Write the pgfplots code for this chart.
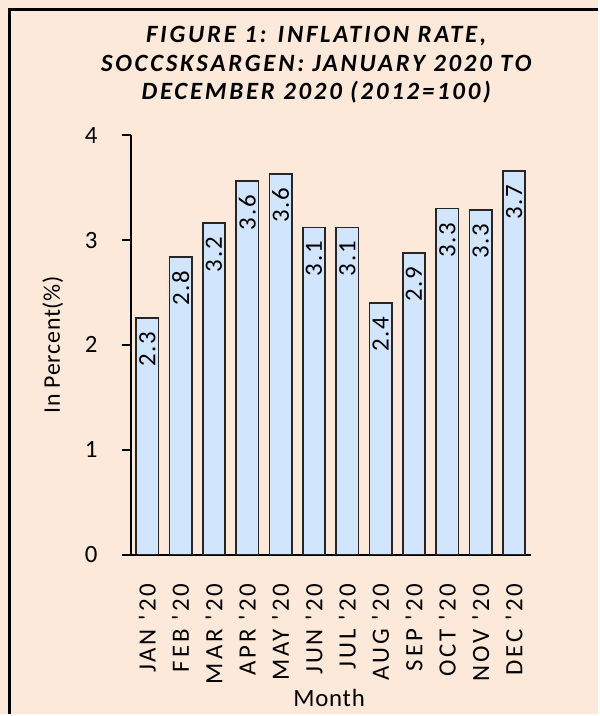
\documentclass[border=0pt]{standalone}
\usepackage{pgfplots}
\pgfplotsset{compat=1.18}
\usepackage{fontspec}
\setmainfont{Carlito}
\newfontfamily\tickfont[LetterSpace=12]{Carlito}
\newfontfamily\labelfont[LetterSpace=3]{Carlito}
\newfontfamily\valuefont[LetterSpace=7]{Carlito}
\newfontfamily\titlefont[LetterSpace=11]{Carlito}
\definecolor{bgpeach}{HTML}{FDE9D9}
\definecolor{barblue}{HTML}{D1E5FD}

\begin{document}
\begin{tikzpicture}
\fill[bgpeach] (0bp,0bp) rectangle (599bp,716bp);
\draw[line width=3.5bp] (9.5bp,0bp) -- (9.5bp,706.5bp) -- (599bp,706.5bp);
\node[align=center, font=\titlefont\bfseries\itshape\fontsize{25}{28.5}\selectfont]
  at (317bp,651bp) {FIGURE 1: INFLATION RATE,\\SOCCSKSARGEN: JANUARY 2020 TO\\DECEMBER 2020 (2012=100)};
\begin{axis}[
  at={(131bp,160bp)}, anchor=south west,
  scale only axis, width=401bp, height=420.5bp,
  xmin=-0.5, xmax=11.5, ymin=0, ymax=4,
  axis x line*=bottom, axis y line*=left,
  axis line style={black, line width=1.8bp, -},
  ytick={0,1,2,3,4},
  tick align=outside, major tick length=9bp,
  ytick style={black, line width=1.8bp},
  xtick={0,...,11},
  xtick style={draw=none},
  xticklabels={JAN '20,FEB '20,MAR '20,APR '20,MAY '20,JUN '20,JUL '20,AUG '20,SEP '20,OCT '20,NOV '20,DEC '20},
  xticklabel style={rotate=90, anchor=east, inner sep=0pt, font=\tickfont\fontsize{25}{30}\selectfont},
  xticklabel shift=20bp,
  yticklabel style={anchor=east, inner sep=0pt, xshift=-24bp, font=\labelfont\fontsize{25}{30}\selectfont},
  /pgf/number format/assume math mode=true,
  xlabel={Month}, ylabel={In Percent(\%)},
  xlabel style={at={(rel axis cs:0.496,-0.3425)}, anchor=center, font=\labelfont\fontsize{25}{30}\selectfont},
  ylabel style={at={(rel axis cs:-0.1945,0.5)}, anchor=center, font=\labelfont\fontsize{24}{30}\selectfont},
  ybar, bar width=22.5bp,
  nodes near coords={\pgfmathprintnumber[fixed,precision=1]{\pgfplotspointmeta}},
  nodes near coords style={rotate=90, anchor=east, inner xsep=13bp, inner ysep=0pt, font=\valuefont\fontsize{25}{30}\selectfont},
]
\addplot[draw=black!85, line width=1.8bp, fill=barblue] coordinates {
  (0,2.26) (1,2.84) (2,3.16) (3,3.56) (4,3.63) (5,3.12)
  (6,3.12) (7,2.40) (8,2.88) (9,3.30) (10,3.29) (11,3.66)
};
\draw[black, line width=1.8bp] (rel axis cs:0,0) -- ++(-9bp,0);
\end{axis}
\end{tikzpicture}
\end{document}
